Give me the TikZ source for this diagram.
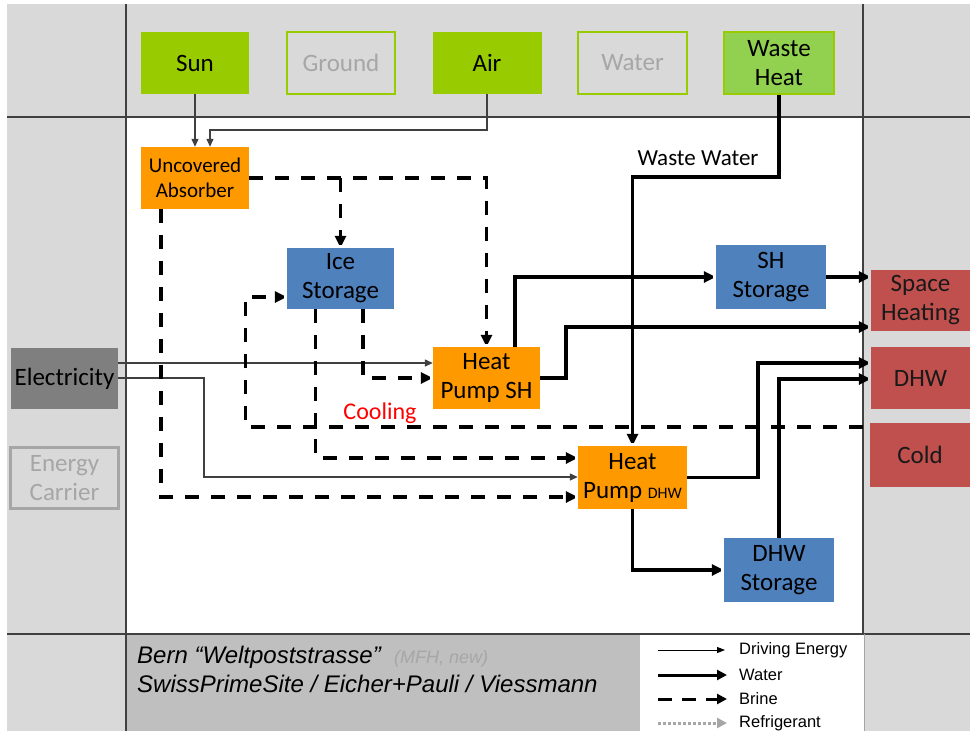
\documentclass[tikz,border=0pt]{standalone}
\usepackage{fontspec}
\setmainfont{Carlito}
\newfontfamily\arialf{Liberation Sans}
\usetikzlibrary{arrows.meta}
\definecolor{bandgray}{HTML}{D9D9D9}
\definecolor{footgray}{HTML}{BFBFBF}
\definecolor{srcgreen}{HTML}{99CC00}
\definecolor{wastegreen}{HTML}{92D050}
\definecolor{hporange}{HTML}{FF9900}
\definecolor{stblue}{HTML}{4F81BD}
\definecolor{sinkred}{HTML}{C0504D}
\definecolor{elecgray}{HTML}{7F7F7F}
\definecolor{lightgraytext}{HTML}{A6A6A6}
\definecolor{gridline}{HTML}{404040}
\definecolor{coolred}{HTML}{FF0000}
\begin{document}
\begin{tikzpicture}[x=1pt,y=-1pt,
  box/.style={minimum width=108pt, minimum height=62pt, inner sep=0pt, align=center,
    font=\fontsize{25}{29}\selectfont, text=black},
  srcfull/.style={box, fill=srcgreen},
  srcempty/.style={box, fill=bandgray, draw=srcgreen, line width=2pt, text=lightgraytext},
  hpbox/.style={box, fill=hporange},
  stbox/.style={box, fill=stblue},
  sinkbox/.style={box, fill=sinkred, text=black!90},
  drv/.style={draw=gridline, line width=1.3pt, -{Triangle[length=8pt,width=7pt]}},
  wat/.style={draw=black, line width=3.6pt, miter limit=2, -{Triangle[length=12pt,width=11pt]}},
  brn/.style={wat, dash pattern=on 14pt off 12pt},
  gridln/.style={draw=gridline, line width=1.5pt}
]
\useasboundingbox (0,0) rectangle (970,731);
% backgrounds
\fill[white] (0,0) rectangle (970,731);
\fill[bandgray] (7,4) rectangle (970,731);
\fill[white] (126,117) rectangle (863,634);
\fill[footgray] (126,634) rectangle (640,731);
\fill[white] (640,634) rectangle (864,731);
% grid lines
\draw[gridln] (7,117) -- (970,117);
\draw[gridln] (7,634) -- (970,634);
\draw[gridln] (126,4) -- (126,731);
\draw[gridln] (863,4) -- (863,634);
\draw[draw=lightgraytext, line width=0.8pt] (864,634) -- (864,731);

% sources
\node[srcfull] (sun) at (195,63) {Sun};
\node[srcempty] (ground) at (341,63) {Ground};
\node[srcfull, minimum width=109pt] (air) at (487,63) {Air};
\node[srcempty, minimum width=109pt] (water) at (632.5,63) {Water};
\node[box, fill=wastegreen, draw=srcgreen, line width=2pt, minimum width=110pt] (waste) at (779,63) {Waste\\Heat};

% energy carriers
\node[box, fill=elecgray, minimum width=107pt, minimum height=61pt] (elec) at (64.5,378.5) {Electricity};
\node[box, fill=bandgray, draw=lightgraytext, line width=2.5pt, text=lightgraytext, minimum width=108pt, minimum height=61pt] (ecar) at (64.5,478) {Energy\\Carrier};

% components
\node[hpbox, font=\fontsize{21}{25}\selectfont] (abs) at (195,178) {Uncovered\\Absorber};
\node[stbox, minimum width=107pt, minimum height=61pt] (ice) at (340.5,278.5) {Ice\\Storage};
\node[hpbox, minimum width=107pt] (hpsh) at (486.5,378) {Heat\\Pump SH};
\node[stbox, minimum width=110pt, minimum height=64pt] (shst) at (771,277) {SH\\Storage};
\node[hpbox, minimum width=109pt, minimum height=63pt] (hpdhw) at (632.5,477.5) {Heat\\Pump {\fontsize{16}{18}\selectfont DHW}};
\node[stbox, minimum width=110pt, minimum height=64pt] (dhwst) at (779,570) {DHW\\Storage};

% sinks
\node[sinkbox, minimum width=99pt, minimum height=61pt] (space) at (920.5,300.5) {Space\\Heating};
\node[sinkbox, minimum width=99pt] (dhw) at (920.5,378) {DHW};
\node[sinkbox, minimum width=100pt, minimum height=64pt] (cold) at (920,455) {Cold};

% labels
\node[font=\fontsize{23}{27}\selectfont, inner sep=0pt] (wwlabel) at (698,158) {Waste Water};
\node[font=\fontsize{24}{28}\selectfont, text=coolred, inner sep=0pt] (coollabel) at (380,413) {Cooling};

% driving energy
\draw[drv] (sun.south) -- (abs.north);
\coordinate (airbend) at (210,130);
\draw[drv] (air.south) |- (airbend) -- (airbend |- abs.north);
\draw[drv] (elec.east |- 0,363) -- (hpsh.west |- 0,363);
\coordinate (elbend) at (204,477);
\draw[drv] (elec.east |- 0,378) -| (elbend) -- (hpdhw.west |- elbend);

% water
\draw[wat] (waste.south) |- (hpdhw.north |- 0,177) -- (hpdhw.north);
\draw[wat] (hpsh.north -| 515,0) |- (shst.west);
\draw[wat] (shst.east) -- (space.west |- shst.east);
\coordinate (shbend) at (566,327);
\draw[wat] (hpsh.east) -| (shbend) -- (space.west |- shbend);
\coordinate (dhwbend) at (758,363);
\draw[wat] (hpdhw.east) -| (dhwbend) -- (dhw.west |- dhwbend);
\draw[wat] (dhwst.north) |- (dhw.west |- 0,379);
\draw[wat] (hpdhw.south) |- (dhwst.west);

% brine
\draw[brn] (abs.east) -- (hpsh.north |- abs.east) -- (hpsh.north);
\draw[brn] (ice.north |- abs.east) -- (ice.north);
\draw[brn] (abs.south -| 161,0) |- (hpdhw.west |- 0,497);
\draw[brn] (ice.south -| 363,0) |- (hpsh.west);
\draw[brn] (ice.south -| 315.5,0) |- (hpdhw.west |- 0,458);
\coordinate (coolbend) at (245.5,427);
\draw[brn, shorten <=7pt] (cold.west |- coolbend) -- (coolbend) |- (ice.west |- 0,297);

% footer
\node[anchor=base west, inner sep=0pt, font=\arialf\itshape\fontsize{24}{28}\selectfont] (title1) at (137,663)
  {Bern “Weltpoststrasse”\ \ {\fontsize{18}{20}\selectfont\color{lightgraytext}(MFH, new)}};
\node[anchor=base west, inner sep=0pt, font=\arialf\itshape\fontsize{24}{28}\selectfont] (title2) at (137,692)
  {SwissPrimeSite / Eicher+Pauli / Viessmann};

% legend
\coordinate (lg1a) at (658,650); \coordinate (lg1b) at (725,650);
\coordinate (lg2a) at (658,675); \coordinate (lg2b) at (727,675);
\coordinate (lg3a) at (658,699); \coordinate (lg3b) at (727,699);
\coordinate (lg4a) at (658,723); \coordinate (lg4b) at (727,723);
\draw[draw=black, line width=1pt, -{Triangle[length=8pt,width=6pt]}] (lg1a) -- (lg1b);
\draw[draw=black, line width=3pt, -{Triangle[length=10pt,width=10pt]}] (lg2a) -- (lg2b);
\draw[draw=black, line width=3pt, dash pattern=on 14pt off 10pt, -{Triangle[length=10pt,width=10pt]}] (lg3a) -- (lg3b);
\draw[draw=lightgraytext, line width=3pt, dash pattern=on 3pt off 2pt, -{Triangle[length=10pt,width=10pt]}] (lg4a) -- (lg4b);
\begin{scope}[every node/.style={anchor=west, inner sep=0pt, font=\arialf\fontsize{16.5}{19}\selectfont}]
\node (lt1) at (739,650) {Driving Energy};
\node (lt2) at (739,675) {Water};
\node (lt3) at (739,699) {Brine};
\node (lt4) at (739,723) {Refrigerant};
\end{scope}
\end{tikzpicture}
\end{document}
